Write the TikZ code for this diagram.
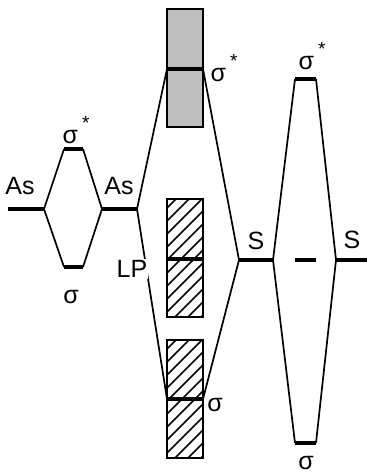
\documentclass[tikz,border=0pt]{standalone}
\usepackage{fontspec}
\setmainfont{Liberation Sans}
\newcommand{\sigstar}{σ\,\raisebox{0.55em}{\fontsize{19}{19}\selectfont *}}
\begin{document}
\begin{tikzpicture}[x=1pt,y=-1pt,
  level/.style={line width=3.5pt},
  link/.style={line width=1.7pt},
  lab/.style={inner sep=1pt,font=\fontsize{25}{25}\selectfont},
  band/.style={draw,line width=1.9pt}]
\useasboundingbox (0,0) rectangle (367,476);

% ---- As–As bond: two As levels, bonding and antibonding ----
\coordinate (asA1) at (8,209);   \coordinate (asA2) at (44,209);
\coordinate (sgsL1) at (64,149); \coordinate (sgsL2) at (83,149);
\coordinate (sgL1) at (64,267);  \coordinate (sgL2) at (83,267);
\coordinate (asB1) at (102,209); \coordinate (asB2) at (137,209);
\draw[level] (asA1) -- (asA2);
\draw[level] (sgsL1) -- (sgsL2);
\draw[level] (sgL1) -- (sgL2);
\draw[level] (asB1) -- (asB2);
\draw[link] (asA2) -- (sgsL1) (sgsL2) -- (asB1);
\draw[link] (asA2) -- (sgL1) (sgL2) -- (asB1);
\node[lab] (lAsA) at (20,186) {As};
\node[lab] (lAsB) at (119,186) {As};
\node[lab] (lsgsL) at (76,130) {\sigstar};
\node[lab] (lsgL) at (71,297) {σ};

% ---- bands in the middle ----
% conduction band (grey)
\draw[band,fill=black!25] (167,9) rectangle (203,127);
\coordinate (cb1) at (167,69); \coordinate (cb2) at (203,69);
\draw[level] (cb1) -- (cb2);
% hatched bands
\foreach \top/\bot/\mid/\nm in {199/317/259/lp,340/458/399/vb}{
  \begin{scope}
    \clip (167,\top) rectangle (203,\bot);
    \foreach \k in {-135,-122,...,40}
      \draw[line width=1.5pt] (167+\k,\bot) -- (167+\k+130,\bot-130);
  \end{scope}
  \draw[band] (167,\top) rectangle (203,\bot);
  \coordinate (\nm1) at (167,\mid); \coordinate (\nm2) at (203,\mid);
  \draw[level] (\nm1) -- (\nm2);
}

% ---- S level ----
\coordinate (sA1) at (239,260); \coordinate (sA2) at (273,260);
\draw[level] (sA1) -- (sA2);
\node[lab] (lsA) at (256,241) {S};

% connectors into the bands
\draw[link] (asB2) -- (cb1);
\draw[link] (cb2) -- (sA1);
\draw[link] (asB2) -- (vb1);
\draw[link] (vb2) -- (sA1);
\node[lab,fill=white] (lLP) at (132,269) {LP};
\node[lab] (lcb) at (224,68) {\sigstar};
\node[lab] (lvb) at (215,405) {σ};

% ---- S–S bond ----
\coordinate (sgsR1) at (295,79);  \coordinate (sgsR2) at (316,79);
\coordinate (nbR1) at (295,260);  \coordinate (nbR2) at (316,260);
\coordinate (sgR1) at (295,443);  \coordinate (sgR2) at (316,443);
\coordinate (sB1) at (336,260);   \coordinate (sB2) at (367,260);
\draw[level] (sgsR1) -- (sgsR2);
\draw[level] (nbR1) -- (nbR2);
\draw[level] (sgR1) -- (sgR2);
\draw[level] (sB1) -- (sB2);
\draw[link] (sA2) -- (sgsR1) (sgsR2) -- (sB1);
\draw[link] (sA2) -- (sgR1) (sgR2) -- (sB1);
\node[lab] (lsB) at (352,240) {S};
\node[lab] (lsgsR) at (312,56) {\sigstar};
\node[lab] (lsgR) at (306,463) {σ};
\end{tikzpicture}
\end{document}
